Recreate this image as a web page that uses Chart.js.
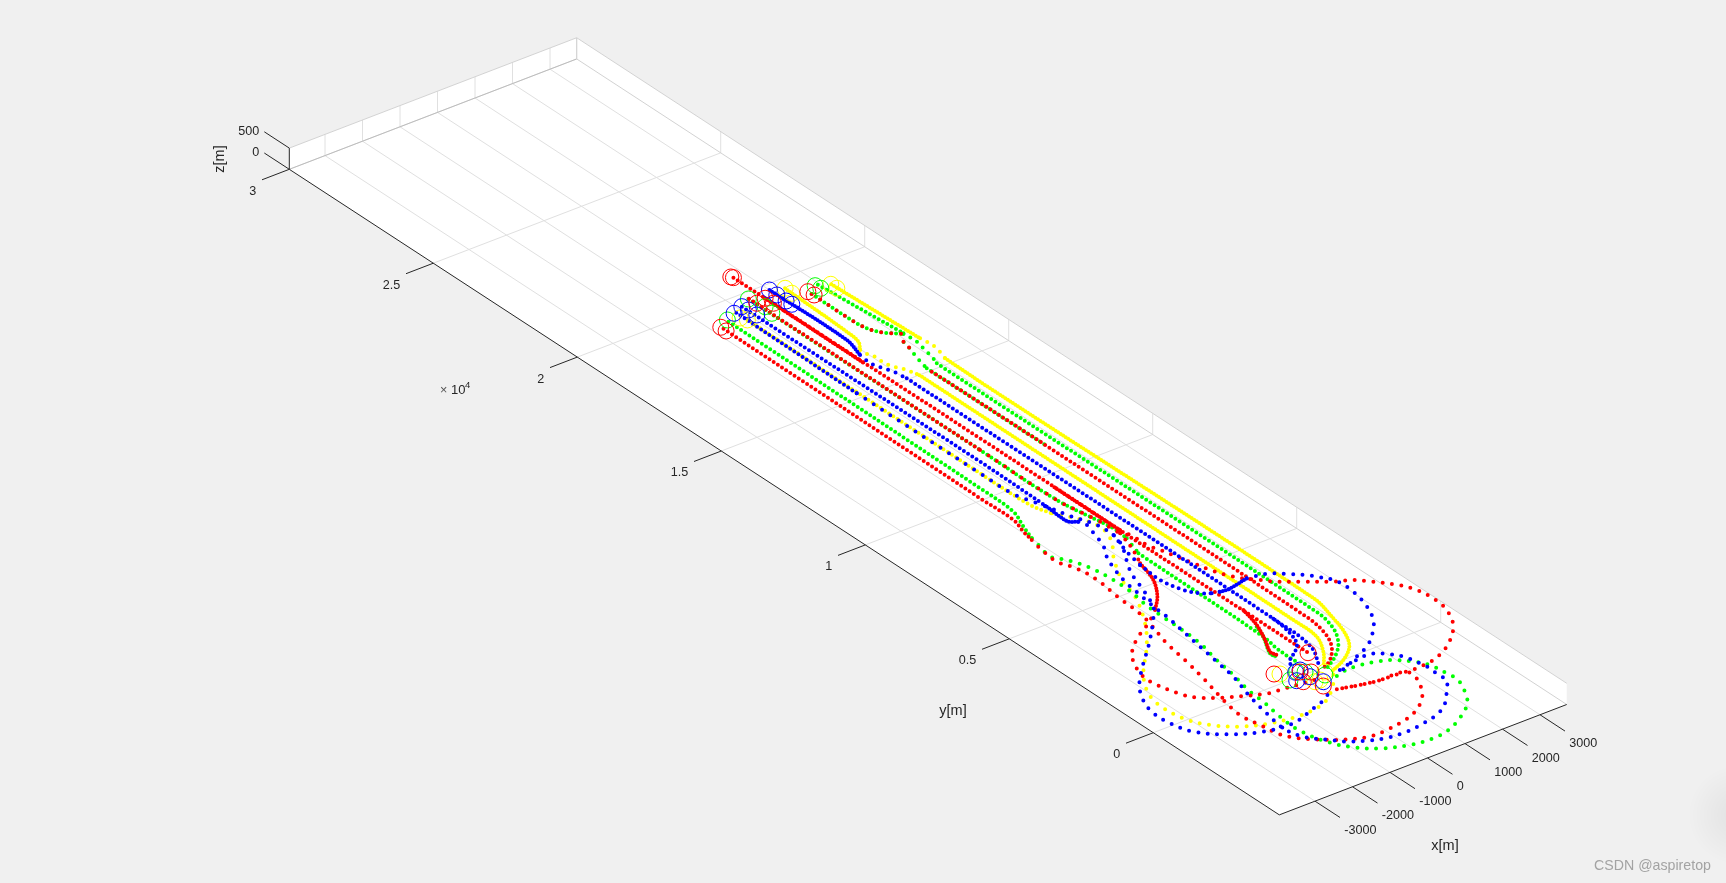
<!DOCTYPE html>
<html>
<head>
<meta charset="utf-8">
<title>Trajectories</title>
<script src="https://cdn.jsdelivr.net/npm/chart.js@4"></script>
<style>
  html, body { margin: 0; padding: 0; background: #f0f0f0; overflow: hidden; }
  canvas { display: block; }
</style>
</head>
<body>
<canvas id="trajChart" width="1726" height="883"></canvas>
<script>
// axis limits and ticks, metres
const xLim = [-3952, 3712];
const yLim = [-4375, 30000];
const zLim = [0, 500];
const xTicks = [-3000, -2000, -1000, 0, 1000, 2000, 3000];
const yTicks = [0, 5000, 10000, 15000, 20000, 25000, 30000];
const zTicks = [0, 500];
const xTickLabels = ['-3000', '-2000', '-1000', '0', '1000', '2000', '3000'];
const yTickLabels = ['0', '0.5', '1', '1.5', '2', '2.5', '3'];
const zTickLabels = ['0', '500'];

// trajectories, [x, y] in metres
const yellowOuterA = [[2186,19174],[2285,16218]];
const yellowOuterB = [[2285,16218],[2311,16020],[2307,15668],[2190,15226]];
const yellowOuterC = [[2190,15226],[2173,13642],[2200,2454],[2014,1516],[1824,863],[1553,361],[1109,-9],[613,-250]];
const yellowMidA = [[1304,19632],[1225,17385],[1163,16900],[978,16599]];
const yellowMidB = [[978,16599],[976,16423],[1045,16282],[1054,15830],[1108,15612],[1205,15449],[1311,15066]];
const yellowMidC = [[1311,15066],[1326,14911],[1300,1975],[1262,1116],[988,528],[655,72]];
const yellowInnerA = [[-141,19056],[-183,10922],[-158,9218],[-9,8659]];
const yellowInnerB = [[-9,8659],[351,8028],[458,7591],[384,7203],[193,6817],[-90,6413],[-550,5524],[-755,4794],[-1275,3772],[-1848,2969],[-2590,2118],[-2963,1516],[-3138,942],[-3077,95],[-2801,-471],[-2341,-913],[-1752,-1188],[-1132,-1307],[-681,-1299],[-200,-1135],[341,-662],[598,-327]];

const greenOuterA = [[1950,19333],[2134,16600]];
const greenOuterB = [[2134,16600],[2142,16381],[2143,16149],[2068,15763],[2009,15454],[1921,15165]];
const greenOuterC = [[1921,15165],[1919,14990],[1897,1942],[1756,1181],[1454,614],[1055,210],[615,-73]];
const greenMixA = [[1605,19100],[1609,17536],[1688,17119],[1814,16880],[2117,16577]];
const greenMixB = [[2117,16577],[1990,16400],[1920,16320],[1874,16089],[1787,15801],[1716,15535],[1624,15127]];
const greenMixC = [[1624,15127],[1623,14951],[1640,11000]];
const greenLaneA = [[416,19747],[417,11704],[418,9041],[639,7363],[606,6856]];
const greenLaneB = [[606,6856],[416,6203]];
const greenLaneC = [[416,6203],[413,6027],[368,1803],[290,1240],[272,814],[283,536]];
const greenBranch = [[513,2224],[368,1803],[50,1158],[76,960]];
const greenLeftA = [[-502,19244],[-568,10419],[-610,9208],[-828,8577],[-988,8079]];
const greenLeftB = [[-988,8079],[-1048,7769],[-1152,7228],[-997,6967],[-848,6640],[-740,6202],[-690,5631],[-696,5103],[-727,4773],[-773,4542],[-809,3859],[-817,3154],[-867,2394],[-1016,1621],[-1123,904],[-1272,131],[-1305,-375],[-1412,-1093],[-1448,-1776],[-1273,-2531],[-971,-3064],[-522,-3462],[39,-3716],[603,-3792],[1194,-3660],[1977,-3160],[2234,-2825],[2523,-2159],[2500,-1786],[2434,-1292],[2240,-966],[1948,-652],[1625,-494],[1179,-381],[710,-413],[426,-550]];

const redLeftA = [[-770,19066],[-825,10084],[-824,8929],[-956,8409],[-1032,8023]];
const redLeftB = [[-1032,8023],[-1121,7560],[-1170,6976],[-1046,6615],[-967,6199],[-972,5671],[-1034,5185],[-1065,4854],[-1085,4425],[-1161,3862],[-1426,2823],[-1563,1952],[-1712,1178],[-1934,195],[-2041,-522],[-1962,-1114],[-1867,-1685],[-1662,-2055],[-1381,-2325],[-1090,-2582],[-756,-2784],[-417,-2921],[34,-2912],[600,-2813],[981,-2663],[1394,-2358],[1651,-2023],[1867,-1568],[1844,-1193],[1164,-1152],[746,-1061],[352,-937],[169,-886]];
const redLaneA = [[430,19747],[417,11704]];
const redLaneMix = [[417,11704],[418,9041],[575,7856],[623,7109]];
const redLaneB = [[623,7109],[505,6667],[360,6246],[187,5847]];
const redLaneC = [[187,5847],[-20,5118],[-382,4507],[-764,4090]];
const redLaneD = [[-764,4090],[-1219,3729],[-1730,3412],[-2173,3042],[-2458,2638],[-2661,2084],[-2679,1655],[-2518,998],[-2321,617],[-1874,274],[-1495,71],[-1008,-160],[-599,-208],[-162,-276],[245,-323]];
const redTopA = [[713,20653],[718,12095],[700,7210],[704,690]];
const redTopB = [[715,19555],[705,16109]];
const redTopC = [[705,9500],[700,7210]];
const redLoopUp = [[700,7210],[761,6826],[770,6375],[865,6036],[973,5598],[1082,5160],[1189,4722],[1340,4340],[1533,4014],[1771,3743],[2008,3474],[2398,3174],[2957,2745],[3336,2544],[3600,2252],[3963,1796],[4141,1392],[4206,899],[4130,336],[3813,-307],[3186,-892],[2619,-1167],[2269,-1218],[1953,-1225],[1717,-1185],[1164,-1152],[746,-1061],[352,-937]];
const redBranch = [[718,2953],[556,2280],[310,1669],[93,1214],[119,1016]];
const redRightMixA = [[1605,19100],[1609,17536],[1688,17119],[1814,16880],[2117,16577]];
const redRightMixB = [[1920,16320],[1874,16089],[1787,15801]];
const redRightC = [[1623,14951],[1640,11000],[1601,1904],[1488,1120],[1256,588],[885,163],[559,-30]];

const blueLeftA = [[-142,19446],[-193,15190]];
const blueLeftMix = [[-193,15190],[-183,10922],[-155,9800],[68,8990]];
const blueLeftB = [[68,8990],[230,8334],[446,7688],[468,7139],[350,6697],[149,6319],[-95,5885],[-269,5486],[-444,4910],[-576,4567],[-663,4280],[-1146,3673],[-1820,2948],[-2333,2453],[-2914,1835],[-3219,1358],[-3422,803],[-3442,198],[-3253,-480],[-2762,-998],[-2078,-1381],[-1360,-1488],[-638,-1243],[-115,-1023],[171,-710]];
const blueLaneA = [[108,19574],[118,11313],[79,8947]];
const blueLaneB = [[79,8947],[45,8440],[56,8165],[224,8036]];
const blueLaneC = [[224,8036],[293,7895],[161,7375],[17,6900],[-202,6499],[-405,5945],[-552,5348],[-615,4864],[-691,4301],[-739,3717],[-847,2999],[-953,2283],[-1059,1565],[-1166,848],[-1401,-37],[-1550,-809],[-1657,-1527],[-1535,-2063],[-1174,-2518],[-937,-2789],[-576,-3012],[-208,-3170],[327,-3226],[821,-3161],[1330,-3018],[1700,-2769],[2071,-2345],[2328,-2009],[2317,-1734],[2349,-1403],[2309,-1107],[2202,-670],[1991,-365],[1711,-151],[1135,-207],[796,-301],[555,-383]];
const blueRightA = [[1000,19777],[1012,17106],[849,16432]];
const blueRightB = [[849,16432],[821,16222],[813,15980],[856,15805],[928,15608],[980,15444],[1031,15049]];
const blueRightC = [[1031,15049],[998,2277],[901,1571],[755,1150],[513,892],[214,678],[28,377]];
const blueRightD = [[998,2277],[990,2034],[983,1331],[864,712],[603,201]];
const blueCrossA = [[468,7139],[263,6409],[142,5791]];
const blueCrossB = [[142,5791],[92,5032],[226,4395],[420,4070],[616,3920]];
const blueCrossC = [[616,3920],[798,3869]];
const blueCrossD = [[798,3869],[998,3839],[1589,3971]];
const blueCrossE = [[1589,3971],[1744,3942],[1972,3891],[2137,3818],[2372,3603],[2682,3311],[2806,3126],[3000,2801],[3053,2405],[2946,1689],[2642,945],[2185,409],[1843,138],[1419,-69],[1064,-241],[753,-357]];

// start and end markers, [x, y] in metres
const yellowMarks = [[-141,19056],[-212,19217],[1307,19632],[1292,19379],[2177,19178],[2175,18967],[-315,337],[75,-372],[202,-379],[492,-175]];
const greenMarks = [[-477,19313],[416,19747],[499,19274],[441,18965],[1878,19333],[1906,19173],[-301,7],[25,199],[415,-275],[157,82]];
const blueMarks = [[-192,19451],[108,19574],[133,19378],[145,19102],[1000,19777],[996,19515],[997,19194],[1008,19010],[-7,192],[-207,-102],[120,-139],[214,-479],[124,213]];
const redMarks = [[713,20653],[687,20710],[-776,19153],[-782,18961],[446,19495],[715,19555],[725,19281],[1601,19226],[1622,19035],[-415,414],[-122,-221],[704,690],[103,-623],[257,5],[73,146]];

const YELLOW = '#ffff00', GREEN = '#00ff00', RED = '#ff0000', BLUE = '#0000ff';
const LANE = 5, MOVE = 8, LOOP = 9.4, SOLID = 3;

// bottom to top: list, colour, dot spacing in px
const sections = [
  [yellowOuterA, YELLOW, SOLID], [yellowOuterB, YELLOW, MOVE], [yellowOuterC, YELLOW, SOLID],
  [yellowMidA, YELLOW, SOLID], [yellowMidB, YELLOW, MOVE], [yellowMidC, YELLOW, SOLID],
  [yellowInnerA, YELLOW, LANE], [yellowInnerB, YELLOW, LOOP],
  [greenOuterA, GREEN, LANE], [greenOuterB, GREEN, MOVE], [greenOuterC, GREEN, LANE],
  [greenMixA, GREEN, LANE], [greenMixB, GREEN, MOVE], [greenMixC, GREEN, LANE],
  [greenLaneA, GREEN, LANE], [greenLaneB, GREEN, MOVE], [greenLaneC, GREEN, LANE],
  [greenBranch, GREEN, SOLID], [greenLeftA, GREEN, LANE], [greenLeftB, GREEN, LOOP],
  [redLeftA, RED, LANE], [redLeftB, RED, LOOP],
  [redLaneA, RED, LANE], [redLaneMix, RED, LANE * 2], [redLaneB, RED, MOVE], [redLaneC, RED, SOLID], [redLaneD, RED, LOOP],
  [redTopA, RED, LANE], [redTopB, RED, SOLID], [redTopC, RED, SOLID], [redLoopUp, RED, LOOP], [redBranch, RED, SOLID],
  [redRightMixA, RED, LANE * 2], [redRightMixB, RED, MOVE], [redRightC, RED, LANE],
  [blueLeftA, BLUE, LANE], [blueLeftMix, BLUE, LANE * 2], [blueLeftB, BLUE, LOOP],
  [blueLaneA, BLUE, LANE], [blueLaneB, BLUE, SOLID], [blueLaneC, BLUE, LOOP],
  [blueRightA, BLUE, SOLID], [blueRightB, BLUE, MOVE], [blueRightC, BLUE, LANE], [blueRightD, BLUE, LANE],
  [blueCrossA, BLUE, MOVE], [blueCrossB, BLUE, 6.5], [blueCrossC, BLUE, MOVE], [blueCrossD, BLUE, SOLID], [blueCrossE, BLUE, LOOP]
];
const markSets = [[yellowMarks, YELLOW], [greenMarks, GREEN], [blueMarks, BLUE], [redMarks, RED]];

// MATLAB view as a fixed orthographic projection onto the page
function project(x, y, z) {
  return {
    x: 1301.5 + 0.0375 * x - 0.0288 * y,
    y: 675.8 - 0.0144 * x - 0.01878 * y - 0.0424 * (z || 0)
  };
}

const INK = '#262626', GRID = '#e0e0e0', EDGE = '#d2d2d2', BACK = '#bcbcbc';
const datasets = [];

function addLine(points, color, width) {
  datasets.push({
    data: points.map(p => project(p[0], p[1], p[2])),
    showLine: true, borderColor: color, borderWidth: width, pointRadius: 0, tension: 0
  });
}

// grid on the floor and walls
xTicks.forEach(x => {
  addLine([[x, yLim[0]], [x, yLim[1]]], GRID, 1);
  addLine([[x, yLim[1], zLim[0]], [x, yLim[1], zLim[1]]], GRID, 1);
});
yTicks.forEach(y => {
  addLine([[xLim[0], y], [xLim[1], y]], GRID, 1);
  addLine([[xLim[1], y, zLim[0]], [xLim[1], y, zLim[1]]], GRID, 1);
});
// back edges of the box
addLine([[xLim[0], yLim[1]], [xLim[1], yLim[1]]], BACK, 1);
addLine([[xLim[1], yLim[1]], [xLim[1], yLim[0]]], EDGE, 1);
addLine([[xLim[0], yLim[1], zLim[1]], [xLim[1], yLim[1], zLim[1]], [xLim[1], yLim[0], zLim[1]]], EDGE, 1);
addLine([[xLim[1], yLim[1], zLim[0]], [xLim[1], yLim[1], zLim[1]]], EDGE, 1);

// trajectories: zero length dashes with round caps give the dotted markers
sections.forEach(([list, color, gap]) => {
  datasets.push({
    data: list.map(p => project(p[0], p[1])),
    showLine: true, borderColor: color, borderWidth: 4,
    borderDash: [0, gap], borderCapStyle: 'round', borderJoinStyle: 'round',
    pointRadius: 0, tension: 0.35
  });
});
markSets.forEach(([list, color]) => {
  datasets.push({
    data: list.map(p => project(p[0], p[1])),
    showLine: false, borderColor: color, backgroundColor: 'transparent',
    borderWidth: 1, pointRadius: 8, pointStyle: 'circle'
  });
});

// axes on top
addLine([[xLim[0], yLim[1]], [xLim[0], yLim[0]], [xLim[1], yLim[0]]], INK, 1);
addLine([[xLim[0], yLim[1], zLim[0]], [xLim[0], yLim[1], zLim[1]]], INK, 1);
xTicks.forEach(x => addLine([[x, yLim[0]], [x, yLim[0] - 868]], INK, 1));
yTicks.forEach(y => addLine([[xLim[0], y], [xLim[0] - 728, y]], INK, 1));
zTicks.forEach(z => addLine([[xLim[0], yLim[1], z], [xLim[0], yLim[1] + 868, z]], INK, 1));

datasets.forEach((d, i) => { d.order = datasets.length - i; });

const boxPlugin = {
  id: 'box3d',
  beforeDatasetsDraw(chart) {
    const { ctx, scales } = chart;
    const poly = pts => {
      ctx.beginPath();
      pts.forEach(p => {
        const s = project(p[0], p[1], p[2]);
        ctx.lineTo(scales.x.getPixelForValue(s.x), scales.y.getPixelForValue(s.y));
      });
      ctx.closePath();
      ctx.fill();
    };
    ctx.save();
    // soft shadow at the right edge of the screenshot
    const glow = ctx.createRadialGradient(1738, 815, 5, 1738, 815, 50);
    glow.addColorStop(0, 'rgba(0,0,0,0.05)');
    glow.addColorStop(1, 'rgba(0,0,0,0)');
    ctx.fillStyle = glow;
    ctx.fillRect(1680, 760, 46, 110);
    ctx.fillStyle = '#ffffff';
    poly([[xLim[0], yLim[0]], [xLim[1], yLim[0]], [xLim[1], yLim[1]], [xLim[0], yLim[1]]]);
    poly([[xLim[0], yLim[1], 0], [xLim[1], yLim[1], 0], [xLim[1], yLim[1], zLim[1]], [xLim[0], yLim[1], zLim[1]]]);
    poly([[xLim[1], yLim[1], 0], [xLim[1], yLim[0], 0], [xLim[1], yLim[0], zLim[1]], [xLim[1], yLim[1], zLim[1]]]);
    ctx.restore();
  },
  afterDraw(chart) {
    const { ctx, scales } = chart;
    const px = (p, dx, dy) => {
      const s = project(p[0], p[1], p[2]);
      return [scales.x.getPixelForValue(s.x) + dx, scales.y.getPixelForValue(s.y) + dy];
    };
    const put = (text, pos, align, font, color) => {
      ctx.font = font;
      ctx.fillStyle = color || INK;
      ctx.textAlign = align;
      ctx.textBaseline = 'middle';
      ctx.fillText(text, pos[0], pos[1]);
    };
    const tickFont = '12.6px "Liberation Sans"';
    const nameFont = '14.5px "Liberation Sans"';
    ctx.save();
    xTicks.forEach((x, i) => put(xTickLabels[i], px([x, yLim[0]], 29.3, 29), 'left', tickFont));
    yTicks.forEach((y, i) => put(yTickLabels[i], px([xLim[0], y], -33, 22), 'right', tickFont));
    zTicks.forEach((z, i) => put(zTickLabels[i], px([xLim[0], yLim[1], z], -30, -17), 'right', tickFont));
    put('x[m]', [1445, 846], 'center', nameFont);
    put('y[m]', [953, 711], 'center', nameFont);
    put('\u00d7', [440, 391], 'left', '12.6px "Liberation Sans"', '#555555');
    put('10', [451, 390], 'left', '13px "Liberation Sans"');
    put('4', [465, 385], 'left', '9.5px "Liberation Sans"');
    ctx.save();
    ctx.translate(220, 159);
    ctx.rotate(-Math.PI / 2);
    put('z[m]', [0, 0], 'center', nameFont);
    ctx.restore();
    put('CSDN @aspiretop', [1594, 866], 'left', '14.2px "Liberation Sans"', '#a3a3a3');
    ctx.restore();
  }
};

new Chart(document.getElementById('trajChart'), {
  type: 'scatter',
  data: { datasets },
  options: {
    responsive: false,
    animation: false,
    layout: { padding: 0, autoPadding: false },
    clip: false,
    scales: {
      x: { type: 'linear', min: 0, max: 1726, display: false },
      y: { type: 'linear', min: 0, max: 883, reverse: true, display: false }
    },
    plugins: { legend: { display: false }, tooltip: { enabled: false } }
  },
  plugins: [boxPlugin]
});
</script>
</body>
</html>
